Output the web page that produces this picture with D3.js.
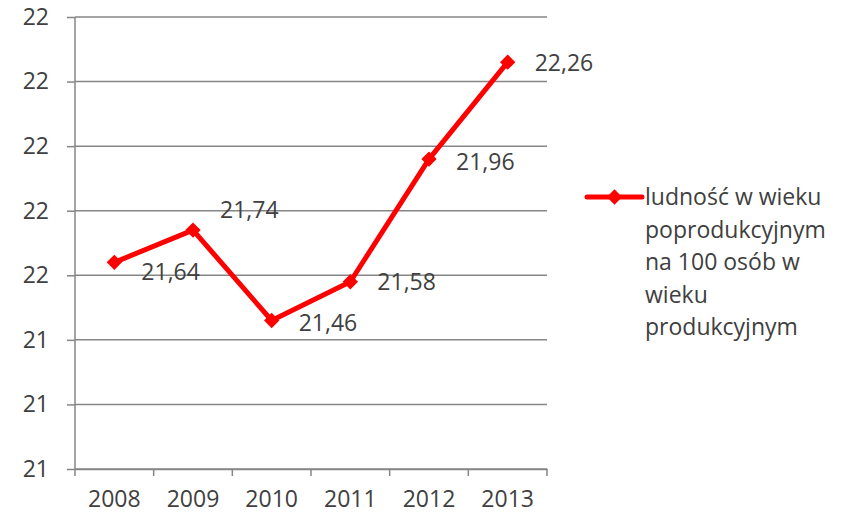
<!DOCTYPE html>
<html><head><meta charset="utf-8">
<script src="https://cdn.jsdelivr.net/npm/d3@7"></script>
<style>body{margin:0;background:#fff}svg{display:block}text{font-family:"Open Sans",sans-serif;fill:#404040}</style>
</head><body><svg id="c" width="845" height="515"></svg>
<script>
const years = ["2008","2009","2010","2011","2012","2013"];
const values = [21.64, 21.74, 21.46, 21.58, 21.96, 22.26];
const valueLabels = ["21,64","21,74","21,46","21,58","21,96","22,26"];
const yTicks = [21.0, 21.2, 21.4, 21.6, 21.8, 22.0, 22.2, 22.4];
const seriesName = ["ludność w wieku","poprodukcyjnym","na 100 osób w","wieku","produkcyjnym"];
const labelShift = [[0,10],[0,-20],[0,2],[0,0],[0,3],[0,1]];

const svg = d3.select("#c");
const m = {l:75, r:298, t:17, b:46};
const W = 845, H = 515;
const x = d3.scaleBand().domain(years).range([m.l, W-m.r]);
const y = d3.scaleLinear().domain([21.0, 22.4]).range([H-m.b, m.t]);
const fs = 23;

// gridlines
svg.append("g").selectAll("line").data(yTicks).join("line")
  .attr("x1", m.l).attr("x2", W-m.r)
  .attr("y1", d=>y(d)).attr("y2", d=>y(d))
  .attr("stroke","#868686").attr("stroke-width",1.5);

// y axis
const ya = svg.append("g").attr("transform",`translate(${m.l},0)`)
  .call(d3.axisLeft(y).tickValues(yTicks).tickFormat(d=>d3.format(".0f")(d)).tickSize(8).tickPadding(18));
ya.select(".domain").attr("stroke","#868686").attr("stroke-width",1.5).attr("d",`M0,${m.t}V${H-m.b}`);
ya.selectAll(".tick line").attr("stroke","#868686").attr("stroke-width",1.5);
ya.selectAll("text").style("font-size",fs+"px").attr("fill","#404040");

// x axis
const xa = svg.append("g").attr("transform",`translate(0,${H-m.b})`)
  .call(d3.axisBottom(x).tickSize(0).tickPadding(22));
xa.select(".domain").attr("stroke","#868686").attr("stroke-width",1.5);
xa.selectAll("text").style("font-size",fs+"px").attr("fill","#404040");
const bounds = years.map(d=>x(d)).concat([x(years[years.length-1])+x.bandwidth()]);
xa.selectAll(".bt").data(bounds).join("line").attr("class","bt")
  .attr("x1",d=>d).attr("x2",d=>d).attr("y1",0).attr("y2",7)
  .attr("stroke","#868686").attr("stroke-width",1.5);

const cx = (d,i)=>x(years[i])+x.bandwidth()/2;
const line = d3.line().x((d,i)=>cx(d,i)).y(d=>y(d));
svg.append("path").datum(values).attr("d",line).attr("fill","none")
  .attr("stroke","#ff0000").attr("stroke-width",5).attr("stroke-linejoin","round");
const diamond = d3.symbol().type(d3.symbolDiamond2).size(150);
svg.append("g").selectAll("path").data(values).join("path")
  .attr("transform",(d,i)=>`translate(${cx(d,i)},${y(d)})`)
  .attr("d",diamond).attr("fill","#ff0000");

svg.append("g").selectAll("text").data(values).join("text")
  .attr("x",(d,i)=>cx(d,i)+27+labelShift[i][0])
  .attr("y",(d,i)=>y(d)+labelShift[i][1])
  .attr("dy","0.35em").style("font-size",fs+"px").text((d,i)=>valueLabels[i]);

// legend
const lg = svg.append("g").attr("transform","translate(587,197)");
lg.append("line").attr("x1",0).attr("x2",55).attr("y1",0).attr("y2",0)
  .attr("stroke","#ff0000").attr("stroke-width",5).attr("stroke-linecap","round");
lg.append("path").attr("transform","translate(27.5,0)").attr("d",diamond).attr("fill","#ff0000");
lg.append("g").selectAll("text").data(seriesName).join("text")
  .attr("x",58).attr("y",(d,i)=>i*32.5).attr("dy","0.35em")
  .style("font-size",fs+"px").text(d=>d);
</script></body></html>
